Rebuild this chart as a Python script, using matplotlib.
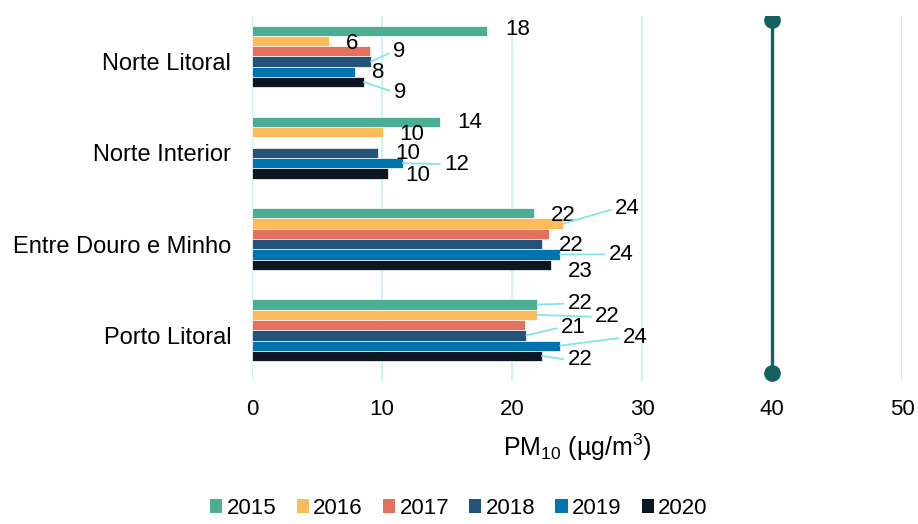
import numpy as np
import matplotlib.pyplot as plt
from matplotlib.patches import Patch

# ===================== DATA =====================
regioes = ["Norte Litoral", "Norte Interior", "Entre Douro e Minho", "Porto Litoral"]
anos = ["2015", "2016", "2017", "2018", "2019", "2020"]

pm_2015 = [18.1, 14.45, 21.7, 21.95]
pm_2016 = [5.95, 10.05, 23.95, 21.9]
pm_2017 = [9.05, np.nan, 22.85, 21.0]
pm_2018 = [9.15, 9.7, 22.3, 21.1]
pm_2019 = [7.95, 11.6, 23.7, 23.7]
pm_2020 = [8.6, 10.45, 23.0, 22.3]

valor_limite = 40

# ===================== STYLE =====================
plt.rcParams["font.family"] = ["Liberation Sans", "DejaVu Sans"]
plt.rcParams["mathtext.default"] = "regular"

cores = ["#4BAE94", "#FDBA58", "#E4705F", "#245379", "#0174B0", "#0D1721"]
cor_grelha = "#CFF3F5"
cor_guia = "#86E3EA"
cor_limite = "#156161"

# posicao dos rotulos (dx, dy em pixels a partir do fim da barra, linha guia)
# o rotulo de 2017 esta escondido no grafico original
rotulos_pos = {
    (0, 0): (30, 1, False), (0, 1): (23, -2, False), (0, 3): (28, 10, True),
    (0, 4): (23, -1, False), (0, 5): (36, -10, True),
    (1, 0): (30, 0, False), (1, 1): (29, -2, False), (1, 3): (30, -1, False),
    (1, 4): (54, -1, True), (1, 5): (30, -2, False),
    (2, 0): (29, -2, False), (2, 1): (64, 15, True), (2, 3): (29, -1, False),
    (2, 4): (61, 0, True), (2, 5): (29, -7, False),
    (3, 0): (43, 1, True), (3, 1): (71, -2, True), (3, 3): (47, 8, True),
    (3, 4): (75, 8, True), (3, 5): (38, -4, True),
}

# ===================== PLOT ======================
fig = plt.figure(figsize=(9.18, 5.24), dpi=100)
ax = fig.add_axes([252 / 918, 1 - 381 / 524, 650 / 918, 365 / 524])

series = [pm_2015, pm_2016, pm_2017, pm_2018, pm_2019, pm_2020]
y = np.arange(len(regioes))
slot = 0.1125  # 7 slots por grupo (o ultimo vazio, como no Excel)

for i, (vals, cor) in enumerate(zip(series, cores)):
    pos = y + (i - 3) * slot
    ax.barh(pos, vals, height=slot, color=cor, edgecolor="white", linewidth=0.5,
            zorder=2)
    for g, v in enumerate(vals):
        if (g, i) not in rotulos_pos or np.isnan(v):
            continue
        dx, dy, guia = rotulos_pos[(g, i)]
        props = None
        if guia:
            props = dict(arrowstyle="-", color=cor_guia, lw=1.3,
                         shrinkA=1, shrinkB=0, relpos=(0, 0.5))
        ax.annotate(f"{v:.0f}", xy=(v, pos[g]), xytext=(dx, dy),
                    textcoords="offset pixels", ha="center", va="center",
                    fontsize=16, color="black", arrowprops=props, zorder=4)

# valor limite
ax.axvline(valor_limite, ymin=0.022, ymax=0.989, color=cor_limite, lw=2.4,
           marker="o", markersize=11, zorder=3)

ax.set_xlim(0, 50)
ax.set_ylim(3.5, -0.5)
ax.set_xticks(np.arange(0, 51, 10))
ax.set_yticks(y)
ax.set_yticklabels(regioes)
ax.tick_params(axis="both", length=0, labelsize=16)
ax.tick_params(axis="y", pad=15, labelsize=17)
ax.tick_params(axis="x", pad=13)
ax.set_axisbelow(True)
ax.xaxis.grid(True, color=cor_grelha, lw=1.5)
for s in ax.spines.values():
    s.set_visible(False)

ax.set_xlabel("PM$_{10}$ (µg/m$^3$)", fontsize=18, labelpad=8)

handles = [Patch(facecolor=c, label=a) for c, a in zip(cores, anos)]
fig.legend(handles=handles, loc="lower center", bbox_to_anchor=(0.5, -0.028),
           ncol=6, frameon=False, fontsize=16, handlelength=0.55,
           handleheight=0.55, handletextpad=0.2, columnspacing=0.9)

fig.savefig("out.png", dpi=100)
